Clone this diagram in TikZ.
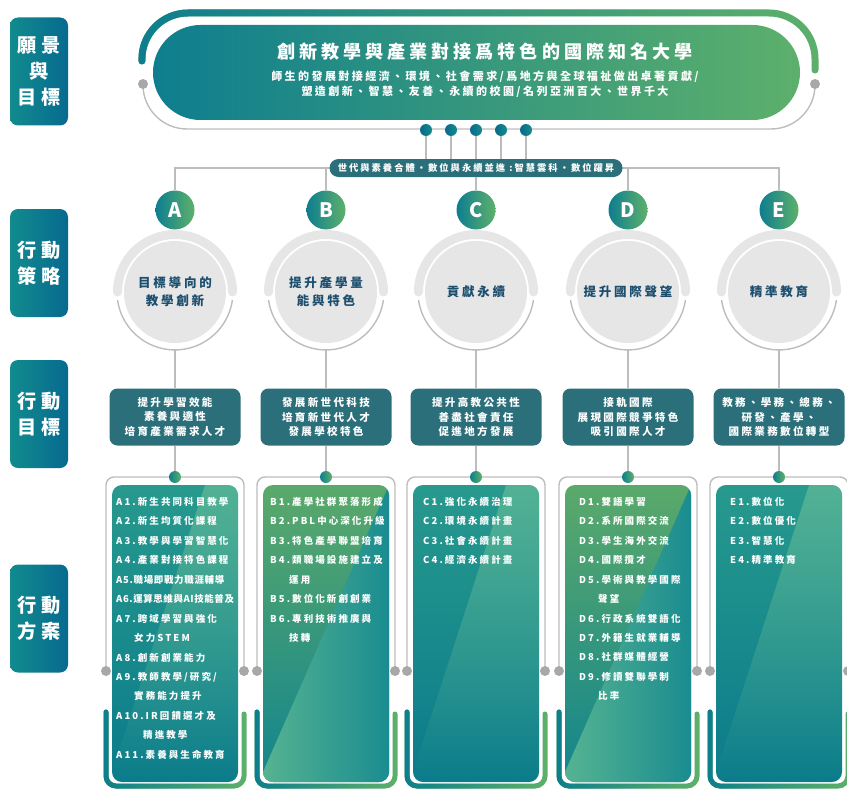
\documentclass[tikz,border=0pt]{standalone}
\usepackage{fontspec}
\usetikzlibrary{fadings}
\newfontfamily\cjk[LetterSpace=22]{Noto Sans CJK TC}
\newfontfamily\cjkn{Noto Sans CJK TC}
\newdimen\pu \pu=0.03cm % 1 px

\definecolor{boxL}{HTML}{118B8E}
\definecolor{boxR}{HTML}{076A8F}
\definecolor{bannerL}{HTML}{0E7E8F}
\definecolor{bannerR}{HTML}{5DB06B}
\definecolor{goalTeal}{HTML}{2B6F7A}
\definecolor{ringGray}{HTML}{E6E6E6}
\definecolor{lineGray}{HTML}{BDBDBD}
\definecolor{dotGray}{HTML}{A8A8A8}
\definecolor{stratBlue}{HTML}{1C4E6E}
\definecolor{uTeal}{HTML}{0D7E8C}
\definecolor{uGreen}{HTML}{5EB16A}
\definecolor{cardTop}{HTML}{27998D}
\definecolor{cardBot}{HTML}{0B7C8B}
\definecolor{cardGreen}{HTML}{5BA96A}
\definecolor{cardBotB}{HTML}{12858E}
\definecolor{sheenC}{HTML}{7FCB9C}
\definecolor{sheenL}{HTML}{55B391}
\definecolor{sheenR}{HTML}{1A8C90}
\definecolor{midDotL}{HTML}{0A6A8C}
\definecolor{midDotR}{HTML}{148C8D}

\tikzset{
  gline/.style={draw=lineGray, line width=1.4\pu},
  sidebox/.style={rounded corners=8\pu, left color=boxL, right color=boxR, minimum width=58\pu, minimum height=108\pu, inner sep=0, text=white, align=center, font=\cjk\bfseries\fontsize{16.4}{22.5}\selectfont},
  banner/.style={rounded corners=47.5\pu, left color=bannerL, right color=bannerR, minimum width=647\pu, minimum height=95\pu, inner sep=0},
  motto/.style={rounded corners=9\pu, fill=goalTeal, minimum width=293\pu, minimum height=18\pu, inner sep=0, text=white, font=\cjk\bfseries\fontsize{7.9}{7.9}\selectfont},
  ltr/.style={circle, minimum size=39\pu, inner sep=0, left color=bannerL, right color=bannerR, text=white, font=\cjkn\bfseries\fontsize{17}{17}\selectfont},
  strat/.style={circle, fill=ringGray, minimum size=102\pu, inner sep=0, text=stratBlue, align=center, font=\cjk\bfseries\fontsize{10.7}{15.4}\selectfont},
  goal/.style={rounded corners=8\pu, fill=goalTeal, minimum width=131\pu, minimum height=57\pu, inner sep=0, text=white, align=center, font=\cjk\bfseries\fontsize{9}{12}\selectfont},
  item/.style={anchor=north west, inner sep=0, text=white, align=left, font=\cjk\bfseries\fontsize{8.1}{16.6}\selectfont},
  gdot/.style={circle, fill=dotGray, minimum size=10\pu, inner sep=0},
  mdot/.style={circle, minimum size=12\pu, inner sep=0, left color=midDotL, right color=midDotR},
  hdot/.style={circle, minimum size=12\pu, inner sep=0, left color=uTeal, right color=uGreen},
  carda/.style={top color=cardTop, bottom color=cardBot},
  cardb/.style={top color=cardGreen, bottom color=cardBotB},
  sheena/.style={fill=sheenC, fill opacity=0.5, path fading=south},
  sheenb/.style={left color=sheenL, right color=sheenR},
}

\begin{document}
\begin{tikzpicture}[x=\pu, y=-\pu]
\useasboundingbox (0,0) rectangle (847,789);

% vänster etiketter
\node[sidebox] (lblVision) at (39,71.5) {願景\\與\\目標};
\node[sidebox] (lblStrat) at (39,263) {行動\\策略};
\node[sidebox] (lblGoal) at (39,414) {行動\\目標};
\node[sidebox] (lblPlan) at (39,618.5) {行動\\方案};

% banner
\draw[bannerR, line width=7\pu, line cap=round, rounded corners=46\pu] (142,61) -- (142,13) -- (815,13) -- (815,70);
\draw[bannerL, line width=7\pu, line cap=round, rounded corners=46\pu, path fading=east] (142,61) -- (142,13) -- (815,13) -- (815,70);
\draw[gline, rounded corners=44\pu] (143,84) -- (143,129) -- (815,129) -- (815,84);
\node[gdot] (endL) at (143,84) {};
\node[gdot] (endR) at (815,84) {};
\node[banner] (vision) at (476.5,72.5) {};
\node[text=white, font=\cjk\bfseries\fontsize{15.4}{15.4}\selectfont] (title) at (485,52) {創新教學與產業對接爲特色的國際知名大學};
\node[text=white, align=center, font=\cjk\bfseries\fontsize{9.4}{12.8}\selectfont] (subtitle) at (485,84.5) {師生的發展對接經濟、環境、社會需求/爲地方與全球福祉做出卓著貢獻/\\塑造創新、智慧、友善、永續的校園/名列亞洲百大、世界千大};

% kolumner
\foreach \c/\x/\k/\d/\s/\g in {
  A/175/a/30/{目標導向的\\教學創新}/{提升學習效能\\素養與適性\\培育產業需求人才},
  B/326/b/63/{提升產學量\\能與特色}/{發展新世代科技\\培育新世代人才\\發展學校特色},
  C/476/a/30/{貢獻永續}/{提升高教公共性\\善盡社會責任\\促進地方發展},
  D/628/b/63/{提升國際聲望}/{接軌國際\\展現國際競爭特色\\吸引國際人才},
  E/779/a/30/{精準教育}/{教務、學務、總務、\\研發、產學、\\國際業務數位轉型}}{
  \draw[ringGray, line width=9\pu, line cap=round] (\x-57.5,292) arc[start angle=180, end angle=0, radius=57.5\pu];
  \draw[gline] (\x+57.4,300) arc[start angle=-8, end angle=-172, radius=58\pu];
  \node[strat] (strat\c) at (\x,292) {\s};
  \node[ltr] (ltr\c) at (\x,210) {\c};
  \node[goal] (goal\c) at (\x,417) {\g};
  \coordinate (arc\c) at (\x,350);
  \draw[gline] (arc\c) -- (goal\c.north);
  % ram runt åtgärder
  \draw[gline, rounded corners=8\pu] (\x-69,671) -- (\x-69,477) -- (\x+69,477) -- (\x+69,671);
  \node[gdot] (gl\c) at (\x-69,671) {};
  \node[gdot] (gr\c) at (\x+69,671) {};
  \node[hdot] (hub\c) at (\x,477) {};
  \draw[gline] (goal\c.south) -- (hub\c);
  \draw[uGreen, line width=5\pu, line cap=round, rounded corners=10\pu] (\x-69,712) -- (\x-69,786) -- (\x+69,786) -- (\x+69,714);
  \draw[uTeal, line width=5\pu, line cap=round, rounded corners=10\pu, path fading=east] (\x-69,712) -- (\x-69,786) -- (\x+69,786) -- (\x+69,714);
  \path[card\k, rounded corners=10\pu] (\x-63,485) rectangle (\x+63,782);
  \begin{scope}
    \clip[rounded corners=10\pu] (\x-63,485) rectangle (\x+63,782);
    \path[sheen\k] (\x+\d,485) -- (\x+63,485) -- (\x+63,782) -- (\x-63,782) -- (\x-63,772) -- cycle;
  \end{scope}
}

% buss
\coordinate (bus) at (476,168);
\draw[gline] (ltrA.north) -- (ltrA.north |- bus) -- (ltrE.north |- bus) -- (ltrE.north);
\draw[gline] (ltrB.north) -- (ltrB.north |- bus);
\draw[gline] (ltrD.north) -- (ltrD.north |- bus);
\node[motto] (motto) at (bus) {世代與素養合體‧數位與永續並進 :智慧雲科‧數位躍昇};
\draw[gline] (motto.south) -- (ltrC.north);
\foreach \i/\x in {1/426,2/451,3/476,4/501,5/526}{
  \node[mdot] (m\i) at (\x,130) {};
  \draw[gline] (m\i) -- (m\i |- motto.north);
}

% åtgärdslistor
\node[item] (listA) at (116,497) {A1.新生共同科目教學\\A2.新生均質化課程\\A3.教學與學習智慧化\\A4.產業對接特色課程\\{\addfontfeature{LetterSpace=7}A5.職場即戰力職涯輔導}\\{\addfontfeature{LetterSpace=6}A6.運算思維與AI技能普及}\\A7.跨域學習與強化\\\hspace*{18\pu}女力STEM\\A8.創新創業能力\\A9.教師教學/研究/\\\hspace*{18\pu}實務能力提升\\A10.IR回饋選才及\\\hspace*{27\pu}精進教學\\A11.素養與生命教育};
\node[item] (listB) at (270,497) {B1.產學社群聚落形成\\B2.PBL中心深化升級\\B3.特色產學聯盟培育\\B4.類職場設施建立及\\\hspace*{19\pu}運用\\B5.數位化新創創業\\B6.專利技術推廣與\\\hspace*{19\pu}技轉};
\node[item] (listC) at (423,497) {C1.強化永續治理\\C2.環境永續計畫\\C3.社會永續計畫\\C4.經濟永續計畫};
\node[item] (listD) at (579,497) {D1.雙語學習\\D2.系所國際交流\\D3.學生海外交流\\D4.國際攬才\\D5.學術與教學國際\\\hspace*{19\pu}聲望\\D6.行政系統雙語化\\D7.外籍生就業輔導\\D8.社群媒體經營\\D9.修讀雙聯學制\\\hspace*{19\pu}比率};
\node[item] (listE) at (730,497) {E1.數位化\\E2.數位優化\\E3.智慧化\\E4.精準教育};

\end{tikzpicture}
\end{document}
